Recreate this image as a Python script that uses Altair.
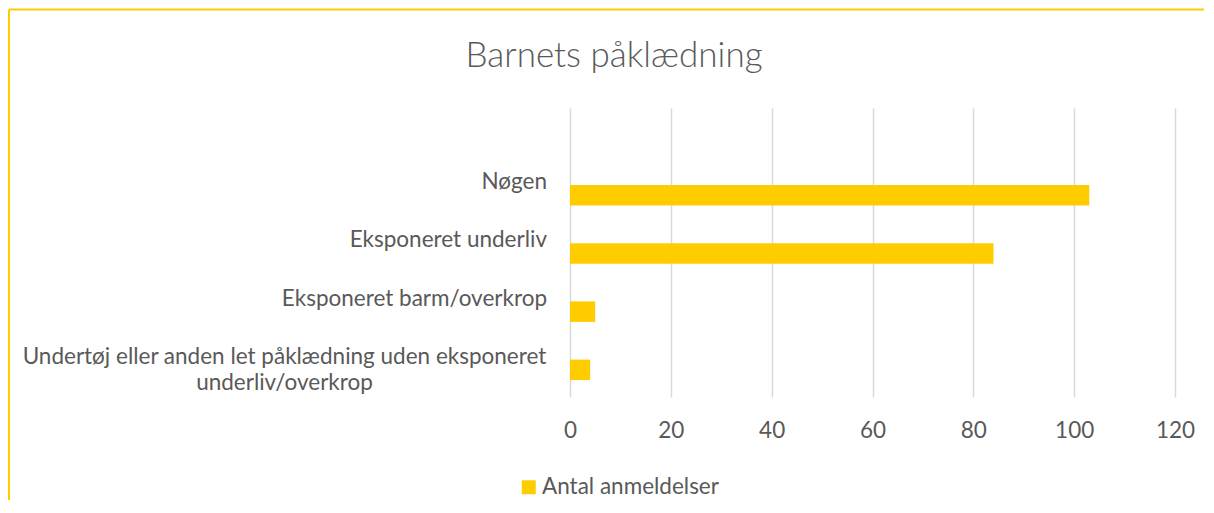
import altair as alt
import pandas as pd

# ---- data ----
categories = [
    "Nøgen",
    "Eksponeret underliv",
    "Eksponeret barm/overkrop",
    "Undertøj eller anden let påklædning uden eksponeret underliv/overkrop",
]
label_lines = [
    "Nøgen",
    "Eksponeret underliv",
    "Eksponeret barm/overkrop",
    "Undertøj eller anden let påklædning uden eksponeret|underliv/overkrop",
]
values = [103, 84, 5, 4]
series_name = "Antal anmeldelser"
x_ticks = [0, 20, 40, 60, 80, 100, 120]
title_text = "Barnets påklædning"

df = pd.DataFrame({
    "kategori": categories,
    "label": label_lines,
    "antal": values,
    "serie": [series_name] * len(categories),
})
df["multi"] = df["label"].str.contains("|", regex=False)

FONT = "Lato"
GRAY = "#595959"
GOLD = "#FFCC00"
FS = 22.5

W_TOTAL, H_TOTAL = 1196, 492
PAD = {"left": 562, "top": 100, "right": 29, "bottom": 103}
PW, PH = 605, 289

yscale = alt.Scale(domain=categories, paddingInner=0.648, paddingOuter=0.807, align=0.82)
Y = alt.Y("kategori:N", scale=yscale, axis=None, sort=categories)

base = alt.Chart(df)

bars = base.mark_bar().encode(
    x=alt.X(
        "antal:Q",
        scale=alt.Scale(domain=[0, 120], nice=False),
        axis=alt.Axis(
            values=x_ticks, grid=True, gridColor="#D9D9D9", gridWidth=1.5,
            domain=False, ticks=False, tickSize=0, labelFlush=False,
            labelFont=FONT, labelFontSize=FS, labelColor=GRAY,
            labelPadding=40, labelBaseline="alphabetic", title=None,
        ),
    ),
    y=Y,
    color=alt.Color(
        "serie:N",
        scale=alt.Scale(range=[GOLD]),
        legend=alt.Legend(
            orient="none", legendX=-52.5, legendY=368, direction="horizontal",
            title=None, symbolType="square", symbolSize=196, symbolStrokeWidth=0,
            labelFont=FONT, labelFontSize=FS, labelColor=GRAY, labelOffset=2,
            labelLimit=500, padding=0,
        ),
    ),
)

single = base.transform_filter("!datum.multi").mark_text(
    align="right", baseline="alphabetic", dy=-6, font=FONT, fontSize=FS,
    color=GRAY, lineBreak="|",
).encode(y=Y, x=alt.value(-23), text="label:N")

multi = base.transform_filter("datum.multi").mark_text(
    align="center", baseline="alphabetic", dy=-6, font=FONT, fontSize=FS,
    color=GRAY, lineBreak="|", lineHeight=26,
).encode(y=Y, x=alt.value(-285.5), text="label:N")

title_df = pd.DataFrame({"t": [title_text]})
title = alt.Chart(title_df).mark_text(
    align="center", baseline="alphabetic", font=FONT, fontSize=35,
    fontWeight=300, color=GRAY,
).encode(x=alt.value(44), y=alt.value(-41.3), text="t:N")

frame_df = pd.DataFrame({"a": [0]})
top_line = alt.Chart(frame_df).mark_rule(color=GOLD, strokeWidth=2).encode(
    x=alt.value(-561), x2=alt.value(W_TOTAL - PAD["left"]), y=alt.value(-98.5)
)
left_line = alt.Chart(frame_df).mark_rule(color=GOLD, strokeWidth=2).encode(
    x=alt.value(-561), y=alt.value(-98.5), y2=alt.value(H_TOTAL - PAD["top"])
)

chart = alt.layer(bars, single, multi, title, top_line, left_line).properties(
    width=PW, height=PH, padding=PAD,
    autosize=alt.AutoSizeParams(type="none"),
    background="white",
).configure_view(stroke=None)

chart.save("out.html", embed_options={"renderer": "svg", "actions": False})
